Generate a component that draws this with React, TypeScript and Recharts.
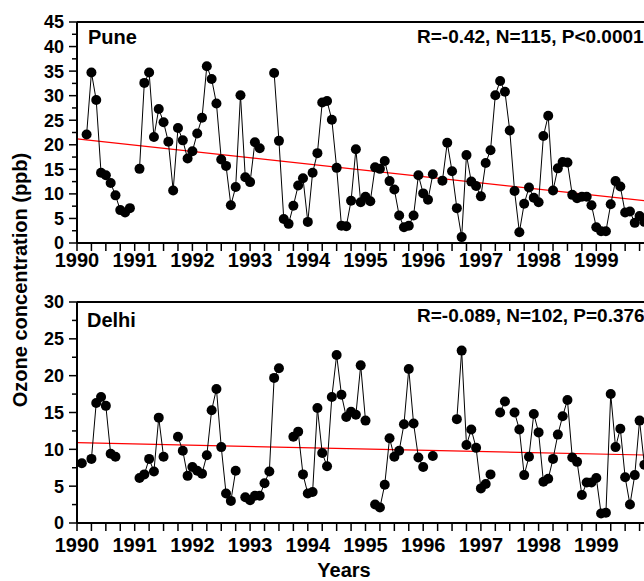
import React from 'react';
import { LineChart, Line, XAxis, YAxis, ReferenceLine } from 'recharts';

// Monthly mean surface ozone (ppb), one entry per month starting January 1990; null = no data
const years = [1990, 1991, 1992, 1993, 1994, 1995, 1996, 1997, 1998, 1999];

const puneOzone: (number | null)[] = [
  null, null, 22.1, 34.7, 29.1, 14.3, 13.8, 12.2, 9.7, 6.7, 6.2, 7.1,
  null, 15.1, 32.6, 34.7, 21.6, 27.3, 24.6, 20.6, 10.7, 23.4, 20.9, 17.2,
  18.7, 22.3, 25.5, 36.0, 33.4, 28.4, 17.0, 15.7, 7.7, 11.4, 30.1, 13.4,
  12.4, 20.5, 19.3, null, null, 34.6, 20.8, 4.9, 3.9, 7.6, 11.7, 13.2,
  4.3, 14.3, 18.3, 28.6, 28.9, 25.1, 15.3, 3.5, 3.4, 8.6, 19.1, 8.3,
  9.4, 8.5, 15.4, 15.1, 16.7, 12.6, 10.9, 5.6, 3.2, 3.5, 5.6, 13.8,
  10.1, 8.8, 14.0, null, 12.7, 20.4, 14.6, 7.1, 1.2, 17.9, 12.5, 11.6,
  9.5, 16.3, 18.9, 30.1, 33.0, 30.8, 22.9, 10.6, 2.2, 8.0, 11.3, 9.2,
  8.3, 21.8, 25.9, 10.7, 15.2, 16.5, 16.4, 9.8, 9.1, 9.4, 9.4, 7.7,
  3.2, 2.4, 2.4, 7.9, 12.6, 11.5, 6.2, 6.4, 4.1, 5.5, 4.3, null,
];

const delhiOzone: (number | null)[] = [
  null, 8.1, null, 8.7, 16.3, 17.1, 15.9, 9.4, 9.0, null, null, null,
  null, 6.1, 6.6, 8.7, 7.0, 14.3, 9.0, null, null, 11.7, 9.8, 6.4,
  7.6, 7.1, 6.7, 9.2, 15.3, 18.2, 10.3, 4.0, 3.0, 7.1, null, 3.5,
  3.1, 3.7, 3.7, 5.4, 7.0, 19.7, 21.0, null, null, 11.7, 12.4, 6.6,
  4.0, 4.2, 15.6, 9.5, 7.7, 17.1, 22.8, 17.4, 14.4, 15.1, 14.7, 21.4,
  13.9, null, 2.5, 2.1, 5.2, 11.5, 9.0, 9.8, 13.4, 20.9, 13.5, 8.9,
  7.6, null, 9.1, null, null, null, null, 14.1, 23.4, 10.6, 12.7, 10.2,
  4.7, 5.3, 6.6, null, 15.0, 16.5, null, 15.0, 12.7, 6.5, 9.0, 14.8,
  12.3, 5.6, 6.0, 8.7, 12.0, 14.5, 16.7, 8.9, 8.3, 3.8, 5.5, 5.5,
  6.1, 1.3, 1.4, 17.5, 10.3, 12.8, 6.2, 2.5, 6.5, 13.9, 7.9, null,
];

// Linear least-squares fits, evaluated at the ends of the time axis
const fitYears = [1990, 2000];
const puneFit = [21.2, 8.4];
const delhiFit = [10.9, 9.2];

const puneStats = 'R=-0.42, N=115, P<0.0001';
const delhiStats = 'R=-0.089, N=102, P=0.376';

const FONT = '"Liberation Sans", Arial, Helvetica, sans-serif';
const CHART_W = 700;
const CHART_H = 275;
const Y_AXIS_W = 77;
const MARGIN = { top: 22, right: 46, bottom: 0, left: 0 };
const AXIS_X = MARGIN.left + Y_AXIS_W;

const toSeries = (values: (number | null)[]) =>
  values.map((v, m) => ({ t: 1990 + m / 12, ozone: v }));

const toFit = (values: number[]) => fitYears.map((t, i) => ({ t, fit: values[i] }));

const xTicks = [...years.flatMap((y) => [y, y + 0.25, y + 0.5, y + 0.75]), 2000];

const XTick = (props: any) => {
  const { x, y, payload } = props;
  const v = payload.value;
  if (!years.includes(v)) return <g />;
  return (
    <text x={x} y={y} dy="0.71em" textAnchor="middle" fontFamily={FONT} fontWeight="bold" fontSize={20} fill="#000">
      {v}
    </text>
  );
};

const YTick = (props: any) => {
  const { y, payload } = props;
  const v = payload.value;
  const major = v % 5 === 0;
  return (
    <g>
      <line x1={AXIS_X - (major ? 8 : 5)} x2={AXIS_X} y1={y} y2={y} stroke="#000" strokeWidth={1.5} />
      {major && (
        <text x={AXIS_X - 13} y={y} dy="0.36em" textAnchor="end" fontFamily={FONT} fontWeight="bold" fontSize={18} fill="#000">
          {v}
        </text>
      )}
    </g>
  );
};

type PanelProps = {
  values: (number | null)[];
  fit: number[];
  yMax: number;
  labelGap: number;
};

const Panel = ({ values, fit, yMax, labelGap }: PanelProps) => {
  const yTicks: number[] = [];
  for (let v = 0; v <= yMax; v += 2.5) yTicks.push(v);
  return (
    <LineChart width={CHART_W} height={CHART_H} data={toSeries(values)} margin={MARGIN}>
      <XAxis
        type="number"
        dataKey="t"
        domain={[1990, 2000]}
        ticks={xTicks}
        interval={0}
        height={32}
        tickSize={8}
        tickMargin={labelGap}
        tick={<XTick />}
        tickLine={{ stroke: '#000', strokeWidth: 1.5 }}
        axisLine={{ stroke: '#000', strokeWidth: 2 }}
        allowDataOverflow
      />
      <YAxis
        type="number"
        domain={[0, yMax]}
        ticks={yTicks}
        interval={0}
        width={Y_AXIS_W}
        tickLine={false}
        tick={<YTick />}
        axisLine={{ stroke: '#000', strokeWidth: 2 }}
        allowDataOverflow
      />
      <ReferenceLine y={yMax} stroke="#000" strokeWidth={2} />
      <Line
        data={toFit(fit)}
        dataKey="fit"
        stroke="#ff0000"
        strokeWidth={1.2}
        dot={false}
        isAnimationActive={false}
      />
      <Line
        dataKey="ozone"
        stroke="#000"
        strokeWidth={1}
        dot={{ r: 5, fill: '#000', stroke: '#000', strokeWidth: 0 }}
        activeDot={false}
        connectNulls={false}
        isAnimationActive={false}
      />
    </LineChart>
  );
};

export default function App() {
  const textStyle = { fontFamily: FONT, fontWeight: 'bold' as const, fill: '#000' };
  return (
    <div
      style={{
        position: 'absolute',
        left: 0,
        top: 0,
        width: 644,
        height: 581,
        overflow: 'hidden',
        background: '#fff',
      }}
    >
      <div style={{ position: 'absolute', left: 0, top: 0 }}>
        <Panel values={puneOzone} fit={puneFit} yMax={45} labelGap={2} />
      </div>
      <div style={{ position: 'absolute', left: 0, top: 280 }}>
        <Panel values={delhiOzone} fit={delhiFit} yMax={30} labelGap={7} />
      </div>
      <svg
        width={644}
        height={581}
        style={{ position: 'absolute', left: 0, top: 0, pointerEvents: 'none' }}
      >
        <text x={88} y={44} fontSize={20} {...textStyle}>Pune</text>
        <text x={417} y={43} fontSize={19} {...textStyle}>{puneStats}</text>
        <text x={87} y={326.5} fontSize={20} {...textStyle}>Delhi</text>
        <text x={417} y={322} fontSize={19} {...textStyle}>{delhiStats}</text>
        <text
          x={0}
          y={0}
          fontSize={20}
          textAnchor="middle"
          transform="translate(27,280) rotate(-90)"
          {...textStyle}
        >
          Ozone concentration (ppb)
        </text>
        <text x={344} y={577} fontSize={20} textAnchor="middle" {...textStyle}>Years</text>
      </svg>
    </div>
  );
}
